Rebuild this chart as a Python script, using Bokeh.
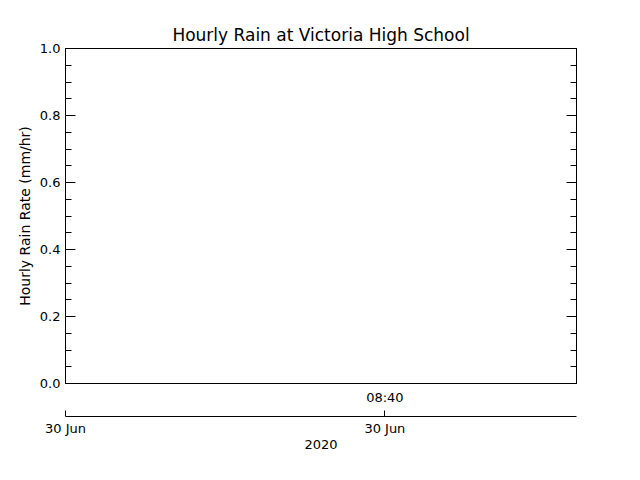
import pandas as pd
from bokeh.plotting import figure
from bokeh.models import (Range1d, LinearAxis, FixedTicker, SingleIntervalTicker,
                          ColumnDataSource, PrintfTickFormatter, DatetimeTickFormatter)
from bokeh.embed import file_html
from bokeh.resources import INLINE

# ---- data / labels ----
title_text = "Hourly Rain at Victoria High School"
y_label = "Hourly Rain Rate (mm/hr)"
year_label = "2020"
obs_times = []      # no rain observations in the window
rain_rate = []      # mm/hr
x_start = "2020-06-30 08:32:30"
x_end = "2020-06-30 08:44:30"
time_ticks = ["2020-06-30 08:40:00"]
date_ticks = ["2020-06-30 08:32:30", "2020-06-30 08:40:00"]
y_min, y_max = 0.0, 1.0
y_major_step = 0.2


def ms(s):
    return float(pd.Timestamp(s).value // 10**6)


FONT = "DejaVu Sans"
FS = "13px"

p = figure(width=624, height=464, output_backend="svg", toolbar_location=None,
           x_axis_location=None, y_axis_location=None,
           x_range=Range1d(ms(x_start), ms(x_end)), y_range=Range1d(y_min, y_max),
           min_border_left=65, min_border_right=48, min_border_top=48, min_border_bottom=81)
p.grid.visible = False
p.outline_line_color = "black"
p.outline_line_width = 1
p.background_fill_color = "white"
p.border_fill_color = "white"

p.title.text = title_text
p.title.align = "center"
p.title.text_font = FONT
p.title.text_font_size = "17px"
p.title.text_font_style = "normal"
p.title.text_color = "black"
p.title.standoff = 8

src = ColumnDataSource(data=dict(t=[ms(t) for t in obs_times], r=rain_rate))
p.line("t", "r", source=src, line_color="black", line_width=1)

# y axes
def y_axis(show_labels):
    ax = LinearAxis(ticker=SingleIntervalTicker(interval=y_major_step, num_minor_ticks=4),
                    formatter=PrintfTickFormatter(format="%.1f"))
    ax.major_tick_in = 10
    ax.major_tick_out = 0
    ax.minor_tick_in = 6
    ax.minor_tick_out = 0
    ax.axis_line_color = "black"
    ax.major_tick_line_color = "black"
    ax.minor_tick_line_color = "black"
    ax.major_label_text_font = FONT
    ax.major_label_text_font_size = FS
    ax.major_label_text_color = "black"
    ax.major_label_standoff = 5
    if not show_labels:
        ax.major_label_text_alpha = 0
    return ax

left = y_axis(True)
left.axis_label = y_label
left.axis_label_text_font = FONT
left.axis_label_text_font_size = "14px"
left.axis_label_text_font_style = "normal"
left.axis_label_text_color = "black"
left.axis_label_standoff = 4
p.add_layout(left, "left")
right = y_axis(False)
p.add_layout(right, "right")

# bottom time-of-day axis
fmt_time = DatetimeTickFormatter(microseconds="%H:%M", milliseconds="%H:%M", seconds="%H:%M",
                                 minsec="%H:%M", minutes="%H:%M", hourmin="%H:%M", hours="%H:%M",
                                 days="%H:%M", months="%H:%M", years="%H:%M",
                                 strip_leading_zeros=False)
ax1 = LinearAxis(ticker=FixedTicker(ticks=[ms(t) for t in time_ticks], minor_ticks=[]),
                 formatter=fmt_time)
ax1.axis_line_color = None
ax1.major_tick_in = 0
ax1.major_tick_out = 0
ax1.minor_tick_in = 0
ax1.minor_tick_out = 0
ax1.major_label_text_font = FONT
ax1.major_label_text_font_size = FS
ax1.major_label_text_color = "black"
ax1.major_label_standoff = 6
ax1.axis_label = " "
ax1.axis_label_text_font_size = "5.5px"
ax1.axis_label_standoff = 0
p.add_layout(ax1, "below")

# bottom date axis
fmt_date = DatetimeTickFormatter(microseconds="%d %b", milliseconds="%d %b", seconds="%d %b",
                                 minsec="%d %b", minutes="%d %b", hourmin="%d %b", hours="%d %b",
                                 days="%d %b", months="%d %b", years="%d %b",
                                 strip_leading_zeros=False)
ax2 = LinearAxis(ticker=FixedTicker(ticks=[ms(t) for t in date_ticks], minor_ticks=[]),
                 formatter=fmt_date)
ax2.axis_line_color = "black"
ax2.major_tick_in = 6
ax2.major_tick_out = 0
ax2.minor_tick_in = 0
ax2.minor_tick_out = 0
ax2.major_tick_line_color = "black"
ax2.major_label_text_font = FONT
ax2.major_label_text_font_size = FS
ax2.major_label_text_color = "black"
ax2.major_label_standoff = 4
ax2.axis_label = year_label
ax2.axis_label_text_font = FONT
ax2.axis_label_text_font_size = FS
ax2.axis_label_text_font_style = "normal"
ax2.axis_label_text_color = "black"
ax2.axis_label_standoff = 1
p.add_layout(ax2, "below")

open("out.html", "w").write(file_html(p, INLINE))
